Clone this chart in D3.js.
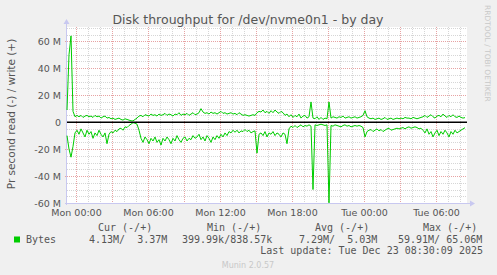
<!DOCTYPE html>
<html>
<head>
<meta charset="utf-8">
<script src="https://cdn.jsdelivr.net/npm/d3@7"></script>
<style>
  html, body { margin: 0; padding: 0; background: #f0f0f0; }
  svg { display: block; }
</style>
</head>
<body>
<svg id="chart"></svg>
<script>
// Samples every 10 minutes, starting Sun 21 Dec 2025 23:15 (values in MB/s)
const sampleStart = new Date(2025, 11, 21, 23, 15);
const sampleStepMin = 10;

const writeBytes = [
  9, 50, 64, 8, 4,
  5, 4, 5, 3.5, 4.5, 5, 4, 4.5, 3.5, 5, 4, 4.5, 3, 4, 4.5,
  3, 3.5, 2.5, 3, 2, 2.5, 3, 2, 1.5, 2.5, 2, 1.5, 1, 0.9,
  2, 3, 4.5, 5, 4, 5.5, 5, 4.5, 6, 5, 5.5, 4.5, 6, 5, 5.5, 6.5,
  5, 6, 5.5, 4.5, 6, 5.5, 7, 5, 6, 5.5, 6.5, 5, 6, 7, 5.5, 6,
  7, 10, 7.5, 6.5, 7, 6, 7.5, 6.5, 7, 6, 7, 8, 6.5, 7, 6,
  6.5, 7, 6, 6.5, 5.5, 7, 6, 5, 5.5, 5, 4.5, 5, 5.5, 5,
  7, 8, 7.5, 9, 7, 8, 6.5, 8.5, 7, 9, 7.5, 6.5, 8, 7,
  5, 6, 4, 5.5, 3.5, 5, 4, 6, 3, 4.5, 5, 3, 4,
  15,
  3, 2.5, 4, 2, 3.5, 2, 3, 2.5,
  15,
  3, 4, 3.5, 3, 4, 3.5, 4.5, 3, 3.5, 4, 3, 3.5, 4, 3, 3.5, 4,
  5, 8.5,
  4, 3, 2.5, 3, 2, 2.5, 3, 2, 2.5, 3.5, 2, 2.5, 3, 2, 2.5, 3, 2.5,
  3, 2.5, 3.5, 3, 3, 2.5, 3.5, 3, 2.5, 3, 3.5,
  4, 5, 3.5, 4.5, 5.5, 4, 3, 4.5, 5, 4, 6, 4.5, 3.5, 5, 4, 5.5, 4, 3.5, 4.5, 3.5, 3, 3.37
];

const readBytes = [
  10, 20, 26, 18, 8,
  6, 9, 5, 8, 11, 6, 9, 7, 12, 8, 10, 6, 9, 11, 8,
  16,
  9, 7, 8, 6, 7, 5, 4.5, 6, 3.5, 4, 2.5, 1.5, 0.4,
  0.8, 1.5, 6, 12, 15, 11, 13, 16, 12, 14, 11, 15, 13, 17, 12, 14,
  11, 13, 16, 12, 14, 10, 13, 15, 12, 11, 14, 12, 13, 10, 12, 11,
  9, 13, 11, 14, 10, 12, 15, 11, 13, 10, 12, 9, 11, 8, 10,
  7, 8, 6, 7.5, 6, 8, 6.5, 7, 5.5, 7, 6, 8, 7, 6.5,
  23,
  9, 8, 10, 7, 11, 8, 9, 7, 10, 8, 9, 11, 8,
  9, 16,
  5, 3, 4, 2.5, 4, 3, 2, 3.5, 2.5, 3, 2,
  3, 50,
  2, 2.5, 2, 1.5, 2, 2.5, 2,
  59.91,
  2.5, 3, 2, 2.5, 3, 3.5, 2.5, 2, 3, 2.5, 3.5, 3, 2.5, 3, 2.5, 3,
  4, 11,
  7, 6, 5.5, 7, 6, 5, 6.5, 5.5, 7, 6, 5, 4.5, 6, 5.5, 5, 4.5, 5,
  4.5, 4, 5, 4, 3.5, 4.5, 4, 3.5, 4, 5, 4.5,
  6, 8, 5, 9, 7, 11, 8, 6, 10, 7, 9, 6, 8, 11, 7, 9, 6, 8, 7, 6, 5, 4.13
];

const yTickValues = [-60, -40, -20, 0, 20, 40, 60];
const legendHeaders = ["Cur (-/+)", "Min (-/+)", "Avg (-/+)", "Max (-/+)"];
const legendValues = ["4.13M/  3.37M", "399.99k/838.57k", "7.29M/  5.03M", "59.91M/ 65.06M"];
const lastUpdate = "Last update: Tue Dec 23 08:30:09 2025";

const width = 497, height = 275;
const plot = { left: 67, right: 467, top: 27, bottom: 203 };
const textColor = "#555";

const svg = d3.select("#chart").attr("width", width).attr("height", height)
  .style("font-family", "'DejaVu Sans', sans-serif");

svg.append("rect").attr("width", width).attr("height", height).attr("fill", "#f0f0f0");

const timeAt = i => new Date(sampleStart.getTime() + i * sampleStepMin * 60000);
const start = sampleStart;
const end = new Date(sampleStart.getTime() + 2000 * 60000);

const x = d3.scaleTime().domain([start, end]).range([plot.left, plot.right]);
const y = d3.scaleLinear().domain([-60, 70.6]).range([plot.bottom, plot.top]);

// plot background
svg.append("rect")
  .attr("x", plot.left).attr("y", plot.top)
  .attr("width", plot.right - plot.left).attr("height", plot.bottom - plot.top)
  .attr("fill", "#fff");

const grid = svg.append("g").attr("shape-rendering", "crispEdges");

// vertical grid: minor every hour, major every 3 hours
d3.timeHour.every(1).range(start, end).forEach(t => {
  const major = t.getHours() % 3 === 0;
  grid.append("line")
    .attr("x1", Math.round(x(t)) + 0.5).attr("x2", Math.round(x(t)) + 0.5)
    .attr("y1", plot.top).attr("y2", plot.bottom + (major ? 2 : 0))
    .attr("stroke", major ? "#e7a3a3" : "#d6d6d6")
    .attr("stroke-dasharray", "1,1");
});

// horizontal grid: minor every 5M, major every 20M
d3.range(-60, 71, 5).forEach(v => {
  if (v === 0) return;
  const major = v % 20 === 0;
  grid.append("line")
    .attr("x1", plot.left - (major ? 2 : 0)).attr("x2", plot.right)
    .attr("y1", Math.round(y(v)) + 0.5).attr("y2", Math.round(y(v)) + 0.5)
    .attr("stroke", major ? "#e7a3a3" : "#d6d6d6")
    .attr("stroke-dasharray", "1,1");
});

// axes with arrows
const axisColor = "#c8c8f0";
svg.append("line").attr("x1", plot.left - 0.5).attr("x2", plot.left - 0.5)
  .attr("y1", plot.bottom + 2).attr("y2", plot.top - 4).attr("stroke", axisColor);
svg.append("path").attr("d", `M${plot.left - 3.5},${plot.top - 3} L${plot.left - 0.5},${plot.top - 8} L${plot.left + 2.5},${plot.top - 3} Z`)
  .attr("fill", axisColor);
svg.append("line").attr("x1", plot.left - 2).attr("x2", plot.right + 4)
  .attr("y1", plot.bottom + 0.5).attr("y2", plot.bottom + 0.5).attr("stroke", axisColor);
svg.append("path").attr("d", `M${plot.right + 3},${plot.bottom - 2.5} L${plot.right + 8},${plot.bottom + 0.5} L${plot.right + 3},${plot.bottom + 3.5} Z`)
  .attr("fill", axisColor);

// tick labels
const fmtTime = d3.timeFormat("%a %H:%M");
const xAxis = svg.append("g")
  .attr("transform", `translate(0,${plot.bottom + 3})`)
  .call(d3.axisBottom(x).ticks(d3.timeHour.every(6)).tickFormat(fmtTime).tickSize(0));
xAxis.select(".domain").remove();
xAxis.selectAll("text").attr("fill", textColor)
  .style("font-family", "'DejaVu Sans', sans-serif").style("font-size", "9.5px");

const yAxis = svg.append("g")
  .attr("transform", `translate(${plot.left - 3},0)`)
  .call(d3.axisLeft(y).tickValues(yTickValues).tickSize(0)
    .tickFormat(v => v === 0 ? "0" : v + " M"));
yAxis.select(".domain").remove();
yAxis.selectAll("text").attr("fill", textColor)
  .style("font-family", "'DejaVu Sans', sans-serif").style("font-size", "9.5px");

// data lines
const green = "#00cc00";
const writeLine = d3.line().x((d, i) => x(timeAt(i))).y(d => y(d));
const readLine = d3.line().x((d, i) => x(timeAt(i))).y(d => y(-d));

svg.append("path").datum(readBytes).attr("d", readLine)
  .attr("fill", "none").attr("stroke", green).attr("stroke-width", 1);
svg.append("path").datum(writeBytes).attr("d", writeLine)
  .attr("fill", "none").attr("stroke", green).attr("stroke-width", 1);

// zero rule
svg.append("line").attr("x1", plot.left).attr("x2", plot.right)
  .attr("y1", y(0)).attr("y2", y(0)).attr("stroke", "#000").attr("stroke-width", 1.5);

// title
svg.append("text").attr("x", 248).attr("y", 24).attr("text-anchor", "middle")
  .attr("fill", textColor).style("font-size", "12.5px")
  .text("Disk throughput for /dev/nvme0n1 - by day");

// vertical label
svg.append("text")
  .attr("transform", "translate(15,114) rotate(-90)")
  .attr("text-anchor", "middle").attr("fill", textColor).style("font-size", "10.5px")
  .text("Pr second read (-) / write (+)");

// rrdtool credit
svg.append("text")
  .attr("transform", "translate(485,5) rotate(90)")
  .attr("fill", "#c8c8c8").style("font-size", "7.5px")
  .text("RRDTOOL / TOBI OETIKER");

// legend (monospace, keep the padding spaces)
const mono = "'DejaVu Sans Mono', monospace";
const keepSpaces = s => s.replace(/ /g, "\u00a0");
const headerX = [98, 207, 315, 423];
const valueX = [89, 182, 299, 398];
const legend = svg.append("g").style("font-family", mono).style("font-size", "10px")
  .attr("fill", textColor);

legend.selectAll("text.hdr").data(legendHeaders).enter().append("text")
  .attr("class", "hdr").attr("x", (d, i) => headerX[i]).attr("y", 231).text(d => keepSpaces(d));
legend.selectAll("text.val").data(legendValues).enter().append("text")
  .attr("class", "val").attr("x", (d, i) => valueX[i]).attr("y", 242.5).text(d => keepSpaces(d));
legend.append("text").attr("x", 26).attr("y", 242.5).text("Bytes");
legend.append("text").attr("x", 483).attr("y", 254).attr("text-anchor", "end").text(keepSpaces(lastUpdate));

svg.append("rect").attr("x", 14).attr("y", 236.5).attr("width", 6).attr("height", 6).attr("fill", green);

svg.append("text").attr("x", 248).attr("y", 268).attr("text-anchor", "middle")
  .attr("fill", "#c8c8c8").style("font-size", "8px").text("Munin 2.0.57");
</script>
</body>
</html>
